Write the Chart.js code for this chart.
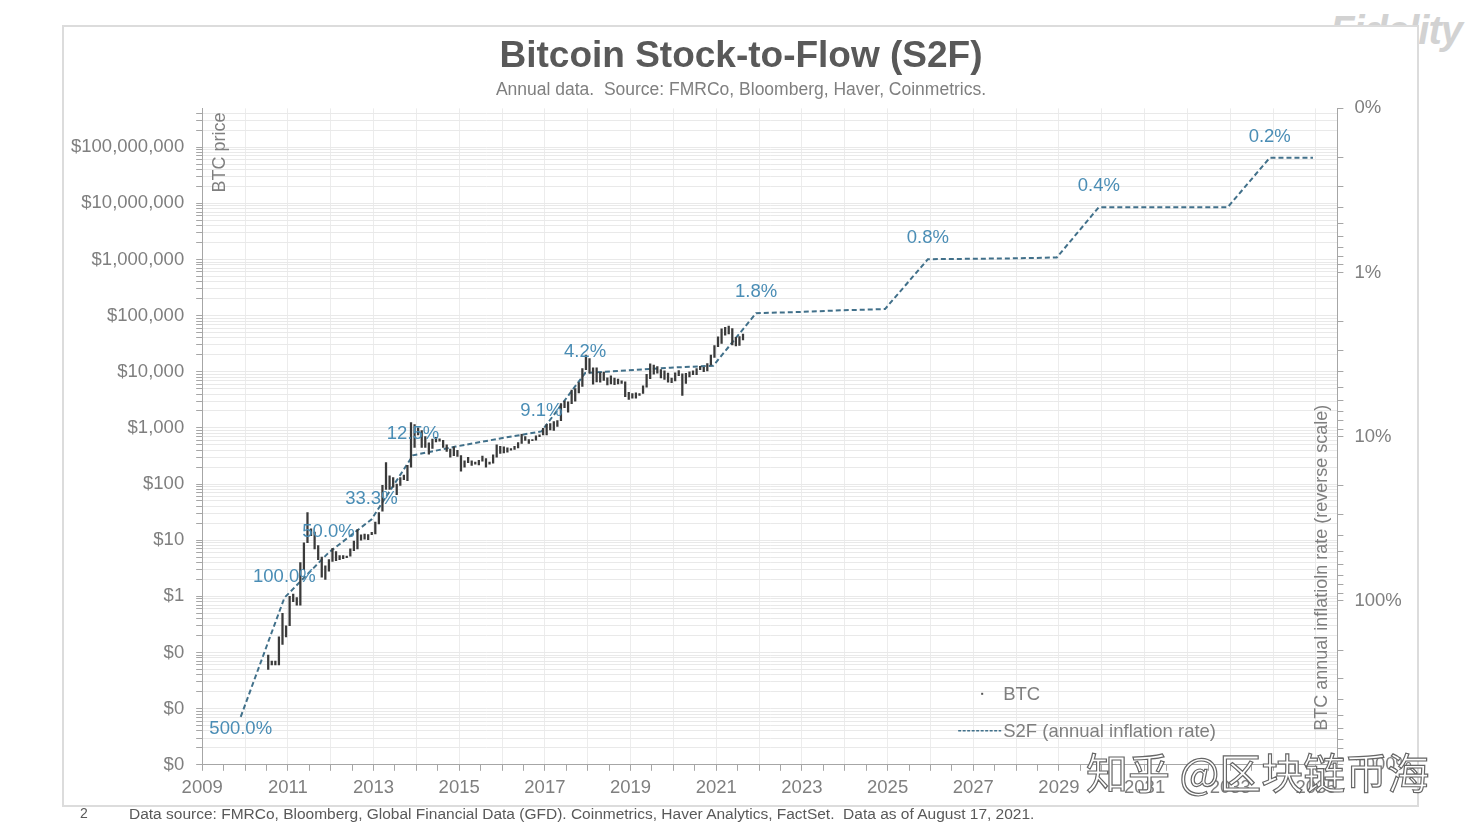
<!DOCTYPE html>
<html>
<head>
<meta charset="utf-8">
<script src="https://cdn.jsdelivr.net/npm/chart.js@4"></script>
<style>
  html, body { margin: 0; padding: 0; background: #fff; }
  body { width: 1475px; height: 832px; position: relative; overflow: hidden; font-family: "Liberation Sans", Arial, sans-serif; }
  #logo { position: absolute; left: 1330px; top: 8px; font: italic bold 40px "Liberation Sans", Arial, sans-serif; color: #d2d2d2; z-index: 1; letter-spacing: -1px; }
  #frame { position: absolute; left: 62px; top: 25px; width: 1353px; height: 778px; border: 2px solid #dcdcdc; background: #fff; z-index: 2; }
  #chart { position: absolute; left: 0; top: 0; z-index: 3; }
  #pageno { position: absolute; left: 80px; top: 805px; font-size: 14px; color: #595959; z-index: 3; }
  #source { position: absolute; left: 129px; top: 805px; font-size: 15.5px; color: #595959; z-index: 3; white-space: pre; }
  #watermark { position: absolute; left: 1086px; top: 740px; font: 42px "Noto Sans CJK SC", sans-serif; color: #fff; -webkit-text-stroke: 1.2px #666; z-index: 4; white-space: pre; }
</style>
</head>
<body>
<div id="logo">Fidelity</div>
<div id="frame"></div>
<canvas id="chart" width="1475" height="832"></canvas>
<div id="pageno">2</div>
<div id="source">Data source: FMRCo, Bloomberg, Global Financial Data (GFD). Coinmetrics, Haver Analytics, FactSet.  Data as of August 17, 2021.</div>
<div id="watermark">知乎 @区块链币海</div>
<script>
// BTC monthly price range, first month = July 2010
var btcStartYear = 2010, btcStartMonth = 7;
var btcLow = [
  0.05, 0.06, 0.06, 0.06, 0.14, 0.19,
  0.3, 0.8, 0.7, 0.7, 3, 9, 12, 7, 4.5, 2.2, 2, 2.8,
  4.2, 4.3, 4.5, 4.7, 4.9, 5.2, 6.5, 7, 10, 10.4, 10.2, 12.5,
  13, 19.5, 33, 80, 80, 88, 65, 95, 120, 115, 200, 450,
  750, 450, 450, 340, 430, 560, 580, 450, 380, 300, 320, 310,
  170, 200, 240, 215, 225, 220, 255, 200, 225, 235, 300, 350,
  360, 370, 400, 415, 440, 530, 600, 530, 590, 605, 700, 750,
  750, 920, 900, 1060, 1350, 2300, 1900, 2700, 3000, 4200, 5500, 10900,
  9400, 6000, 6600, 6500, 7000, 5800, 6100, 5900, 6100, 6200, 3600, 3200,
  3400, 3400, 3800, 4100, 5300, 7500, 9100, 9400, 7800, 7300, 6500, 6400,
  6900, 8500, 3800, 6200, 8100, 8900, 8900, 10900, 10000, 10400, 13200, 18000,
  28000, 32000, 45000, 47000, 30000, 28800, 29300, 37000
];
var btcHigh = [
  0.09, 0.07, 0.07, 0.19, 0.5, 0.3,
  1.0, 1.1, 0.95, 4, 9, 31, 16, 14, 8, 5, 3.5, 4.5,
  7.2, 6.3, 5.3, 5.3, 5.2, 7, 9.6, 15.4, 12.5, 12.8, 12.6, 13.8,
  21, 31, 95, 240, 140, 130, 100, 130, 145, 215, 1240, 1150,
  1000, 900, 700, 540, 630, 680, 640, 600, 500, 420, 460, 400,
  320, 260, 300, 260, 245, 265, 315, 285, 245, 330, 500, 470,
  460, 440, 430, 470, 550, 770, 700, 620, 620, 720, 750, 980,
  1150, 1200, 1290, 1350, 2700, 3000, 2900, 4700, 5000, 6400, 11400, 19800,
  17200, 11700, 11700, 9700, 9900, 7800, 8500, 7700, 7400, 6900, 6600, 4300,
  4100, 4200, 4100, 5600, 9000, 13800, 13100, 12300, 10900, 10400, 9500, 7700,
  9600, 10500, 9200, 9400, 10000, 10400, 11400, 12500, 12000, 14000, 19900, 29300,
  42000, 58000, 61800, 64900, 59000, 41000, 42400, 47000
];

// S2F annual inflation rate (%), plotted on the reversed right axis
var s2fYears = [2009.9, 2010.92, 2011.95, 2012.95, 2013.92, 2014.92, 2015.92, 2016.92,
  2017.94, 2018.93, 2019.93, 2020.93, 2021.93, 2022.93, 2023.93, 2024.94,
  2025.94, 2026.94, 2027.94, 2028.95, 2029.93, 2030.93, 2031.93, 2032.94,
  2033.92, 2034.93];
var s2fRates = [510, 96, 51, 32, 13, 11.5, 10.3, 9.3,
  4.1, 3.95, 3.8, 3.7, 1.77, 1.74, 1.7, 1.67,
  0.83, 0.825, 0.82, 0.81, 0.4, 0.4, 0.4, 0.4,
  0.2, 0.2];
var s2fLabels = ['500.0%', '100.0%', '50.0%', '33.3%', '12.5%', '', '', '9.1%',
  '4.2%', '', '', '', '1.8%', '', '', '',
  '0.8%', '', '', '', '0.4%', '', '', '',
  '0.2%', ''];

var xMin = 2009, xMax = 2035.5;
var FONT = '"Liberation Sans", Arial, sans-serif';
var GRAY = '#7f7f7f';

var btcData = [];
for (var i = 0; i < btcLow.length; i++) {
  var m = btcStartMonth - 1 + i;
  btcData.push({ x: btcStartYear + (m + 0.5) / 12, y: [btcLow[i], btcHigh[i]] });
}
var s2fData = s2fYears.map(function (yr, i) { return { x: yr, y: s2fRates[i] }; });

function logTicks(lo, hi) {
  var t = [];
  for (var e = -4; e <= 10; e++) {
    for (var k = 1; k <= 9; k++) {
      var v = k * Math.pow(10, e);
      if (v >= lo * 0.9999 && v <= hi * 1.0001) t.push({ value: v });
    }
  }
  return t;
}
function isPow10(v) {
  var l = Math.log10(v);
  return Math.abs(l - Math.round(l)) < 1e-9;
}

var extras = {
  id: 'extras',
  afterDatasetsDraw: function (chart) {
    var ctx = chart.ctx, a = chart.chartArea;
    ctx.save();
    // S2F rate labels
    var meta = chart.getDatasetMeta(1);
    ctx.font = '18.5px ' + FONT;
    ctx.fillStyle = '#4a8db5';
    ctx.textAlign = 'center';
    ctx.textBaseline = 'middle';
    meta.data.forEach(function (pt, i) {
      if (s2fLabels[i]) ctx.fillText(s2fLabels[i], pt.x, pt.y + (i === 0 ? 12 : -21));
    });
    // axis titles
    ctx.fillStyle = GRAY;
    ctx.font = '18px ' + FONT;
    ctx.save();
    ctx.translate(a.left + 18, a.top + 4);
    ctx.rotate(-Math.PI / 2);
    ctx.textAlign = 'right';
    ctx.fillText('BTC price', 0, 0);
    ctx.restore();
    ctx.save();
    ctx.translate(a.right - 15, a.bottom - 34);
    ctx.rotate(-Math.PI / 2);
    ctx.textAlign = 'left';
    ctx.fillText('BTC annual inflatioln rate (reverse scale)', 0, 0);
    ctx.restore();
    // legend
    var lx = a.left + 801, ly = a.bottom - 71;
    ctx.fillStyle = '#555';
    ctx.fillRect(lx - 22, ly - 1, 2, 2);
    ctx.fillStyle = GRAY;
    ctx.textAlign = 'left';
    ctx.font = '18.5px ' + FONT;
    ctx.fillText('BTC', lx, ly + 1);
    ctx.strokeStyle = '#41708a';
    ctx.lineWidth = 1.5;
    ctx.setLineDash([3, 1.5]);
    ctx.beginPath();
    ctx.moveTo(lx - 45, ly + 37);
    ctx.lineTo(lx - 2, ly + 37);
    ctx.stroke();
    ctx.setLineDash([]);
    ctx.fillText('S2F (annual inflation rate)', lx, ly + 38);
    ctx.restore();
  }
};

new Chart(document.getElementById('chart'), {
  data: {
    datasets: [{
      type: 'bar',
      label: 'BTC',
      data: btcData,
      yAxisID: 'y',
      backgroundColor: '#3a3a3a',
      barThickness: 1.6,
      grouped: false
    }, {
      type: 'line',
      label: 'S2F (annual inflation rate)',
      data: s2fData,
      yAxisID: 'y2',
      borderColor: '#41708a',
      borderWidth: 2,
      borderDash: [5, 3],
      pointRadius: 0,
      tension: 0,
      fill: false
    }]
  },
  options: {
    responsive: false,
    animation: false,
    devicePixelRatio: 1,
    layout: { padding: { left: 59, right: 52, top: 0, bottom: 27 } },
    plugins: {
      legend: { display: false },
      tooltip: { enabled: false },
      title: {
        display: true,
        text: 'Bitcoin Stock-to-Flow (S2F)',
        color: '#595959',
        font: { family: FONT, size: 37, weight: 'bold' },
        padding: { top: 35, bottom: 0 }
      },
      subtitle: {
        display: true,
        text: 'Annual data.  Source: FMRCo, Bloomberg, Haver, Coinmetrics.',
        color: GRAY,
        font: { family: FONT, size: 17.5 },
        padding: { top: 0, bottom: 8 }
      }
    },
    scales: {
      x: {
        type: 'linear',
        min: xMin,
        max: xMax,
        offset: false,
        afterBuildTicks: function (scale) {
          var t = [];
          for (var v = xMin; v <= xMax + 1e-6; v += 0.5) t.push({ value: v });
          scale.ticks = t;
        },
        ticks: {
          autoSkip: false,
          maxRotation: 0,
          color: GRAY,
          padding: 6,
          font: { family: FONT, size: 18.5 },
          callback: function (v) {
            return (Number.isInteger(v) && (v - 2009) % 2 === 0) ? String(v) : '';
          }
        },
        grid: {
          offset: false,
          color: function (c) {
            return (c.tick && Number.isInteger(c.tick.value)) ? '#ececec' : 'rgba(0,0,0,0)';
          },
          tickColor: '#a6a6a6',
          tickLength: 6
        },
        border: { color: '#a6a6a6' }
      },
      y: {
        type: 'logarithmic',
        position: 'left',
        min: 0.001,
        max: 4.9e8,
        afterBuildTicks: function (scale) { scale.ticks = logTicks(0.001, 4.9e8); },
        ticks: {
          autoSkip: false,
          color: GRAY,
          padding: 12,
          font: { family: FONT, size: 18.5 },
          callback: function (v) {
            if (!isPow10(v)) return '';
            return v < 1 ? '$0' : '$' + Math.round(v).toLocaleString('en-US');
          }
        },
        grid: {
          color: '#e9e9e9',
          tickColor: '#a6a6a6',
          tickLength: 6
        },
        border: { color: '#a6a6a6' }
      },
      y2: {
        type: 'logarithmic',
        position: 'right',
        reverse: true,
        min: 0.1,
        max: 1000,
        afterBuildTicks: function (scale) { scale.ticks = logTicks(0.1, 1000); },
        ticks: {
          autoSkip: false,
          color: GRAY,
          padding: 11,
          font: { family: FONT, size: 18.5 },
          callback: function (v) {
            return isPow10(v) ? Math.round(v) + '%' : '';
          }
        },
        grid: {
          drawOnChartArea: false,
          tickColor: '#a6a6a6',
          tickLength: 6
        },
        border: { color: '#a6a6a6' }
      }
    }
  },
  plugins: [extras]
});
</script>
</body>
</html>
